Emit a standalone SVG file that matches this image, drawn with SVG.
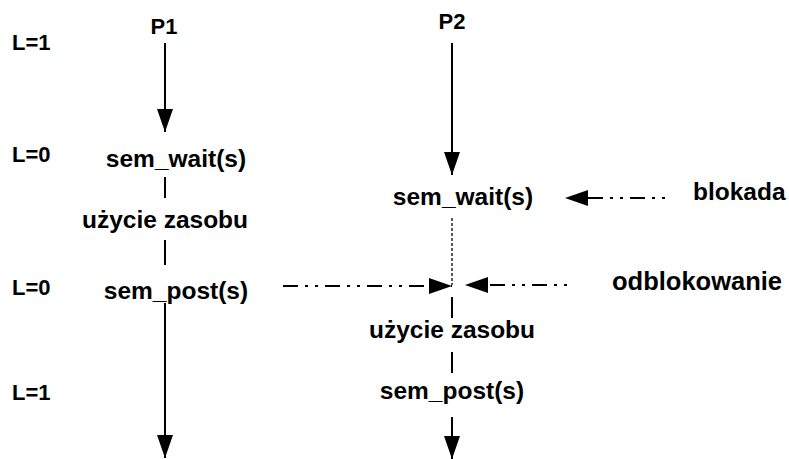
<svg xmlns="http://www.w3.org/2000/svg" width="789" height="459" viewBox="0 0 789 459">
<style>
text{font-family:"Liberation Sans",Arial,sans-serif;font-weight:bold;fill:#000;font-size:24.5px}
.c{text-anchor:middle}
.lv{font-size:22px}
.p{font-size:22px}
.big{font-size:25.5px}
.ln{stroke:#000;stroke-width:2;fill:none}
.dd{stroke:#000;stroke-width:2;fill:none}
.dt{stroke:#000;stroke-width:1.3;fill:none;stroke-dasharray:3 2}
</style>
<defs>
<marker id="ah" viewBox="0 0 23 16" refX="23" refY="8" markerWidth="23" markerHeight="16" markerUnits="userSpaceOnUse" orient="auto">
<path d="M0,0 L23,8 L0,16 z" fill="#000"/>
</marker>
</defs>
<rect width="789" height="459" fill="#fff"/>
<g id="levels">
<text class="lv" x="12" y="50">L=1</text>
<text class="lv" x="12" y="162">L=0</text>
<text class="lv" x="12" y="295">L=0</text>
<text class="lv" x="12" y="400">L=1</text>
</g>
<g id="p1"><text class="c p" x="164" y="34">P1</text></g>
<g id="p2"><text class="c p" x="452" y="29">P2</text></g>
<g id="p1-wait"><text class="c" x="176" y="167">sem_wait(s)</text></g>
<g id="p1-use"><text class="c" x="165" y="228">użycie zasobu</text></g>
<g id="p1-post"><text class="c" x="176" y="299">sem_post(s)</text></g>
<g id="p2-wait"><text class="c" x="463" y="205">sem_wait(s)</text></g>
<g id="p2-use"><text class="c" x="452" y="338">użycie zasobu</text></g>
<g id="p2-post"><text class="c" x="452" y="399">sem_post(s)</text></g>
<g id="blokada"><text x="693" y="200">blokada</text></g>
<g id="odblokowanie"><text class="big" x="612" y="290">odblokowanie</text></g>
<g id="connectors">
<line class="ln" x1="165" y1="43" x2="165" y2="132" marker-end="url(#ah)"/>
<line class="ln" x1="165" y1="177" x2="165" y2="198"/>
<line class="ln" x1="165" y1="240" x2="165" y2="265"/>
<line class="ln" x1="165" y1="303" x2="165" y2="458" marker-end="url(#ah)"/>
<line class="ln" x1="452" y1="43" x2="452" y2="175" marker-end="url(#ah)"/>
<line class="dt" x1="452" y1="218" x2="452" y2="285"/>
<line class="ln" x1="452" y1="297" x2="452" y2="318"/>
<line class="ln" x1="452" y1="352" x2="452" y2="373"/>
<line class="ln" x1="452" y1="417" x2="452" y2="459" marker-end="url(#ah)"/>
<line class="dd" x1="665" y1="198" x2="565" y2="198" stroke-dasharray="3 7 3 7 15 7" marker-end="url(#ah)"/>
<line class="dd" x1="567" y1="285" x2="465" y2="285" stroke-dasharray="3 7 3 7 15 7" marker-end="url(#ah)"/>
<line class="dd" x1="283" y1="286" x2="452" y2="286" stroke-dasharray="15 7 3 7 3 7" marker-end="url(#ah)"/>
</g>
</svg>
